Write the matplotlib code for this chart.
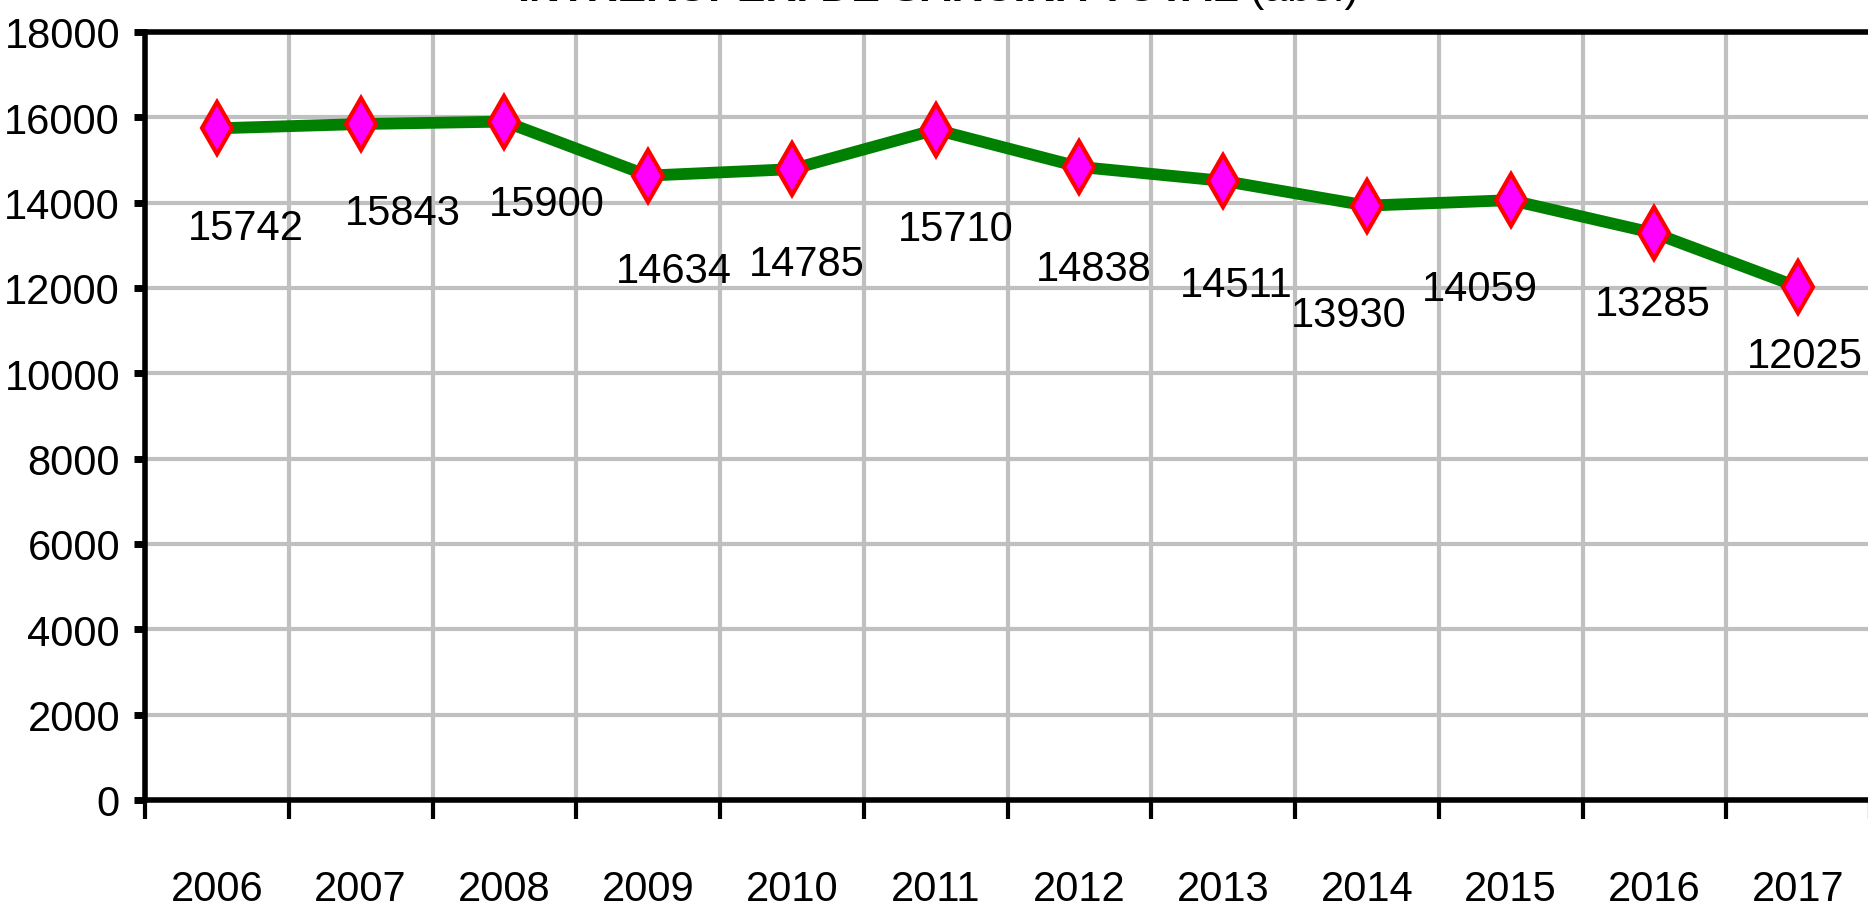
import matplotlib.pyplot as plt
from matplotlib.ticker import MultipleLocator, FixedLocator, NullFormatter, FixedFormatter
import numpy as np

years = ['2006', '2007', '2008', '2009', '2010', '2011',
         '2012', '2013', '2014', '2015', '2016', '2017']
values = [15742, 15843, 15900, 14634, 14785, 15710,
          14838, 14511, 13930, 14059, 13285, 12025]
# label offsets from the point, pixels
label_dx = [29, 42, 42, 26, 15, 20, 14, 13, -18, -31, -2, 7]
label_dy = [-100, -89, -82, -95, -95, -99, -102, -104, -109, -89, -71, -69]

plt.rcParams['font.family'] = ['Liberation Sans Narrow', 'Liberation Sans', 'DejaVu Sans']

fig = plt.figure(figsize=(18.68, 9.12), dpi=100)
ax = fig.add_axes([145 / 1868, 1 - 801 / 912, 1725 / 1868, 768 / 912])

x = np.arange(len(years))
ax.plot(x, values, color='#008000', lw=8.5, zorder=3,
        marker='d', ms=26, mfc='#FF00FF', mec='#FF0000', mew=3)

for i, v in enumerate(values):
    ax.annotate(str(v), (x[i], v), xytext=(label_dx[i], label_dy[i]),
                textcoords='offset pixels', ha='center', va='center',
                fontsize=30, zorder=4)

ax.set_xlim(-0.5, len(years) - 0.5)
ax.set_ylim(0, 18000)
ax.yaxis.set_major_locator(MultipleLocator(2000))

ax.xaxis.set_major_locator(FixedLocator(np.arange(len(years) + 1) - 0.5))
ax.xaxis.set_major_formatter(NullFormatter())
ax.xaxis.set_minor_locator(FixedLocator(x))
ax.xaxis.set_minor_formatter(FixedFormatter(years))

ax.grid(True, which='major', color='#C0C0C0', lw=3, zorder=0)
ax.set_axisbelow(True)

for s in ['left', 'bottom', 'top']:
    ax.spines[s].set_linewidth(4)
    ax.spines[s].set_color('black')
ax.spines['right'].set_visible(False)

ax.tick_params(axis='y', which='major', length=8, width=5, pad=10, labelsize=30)
ax.tick_params(axis='x', which='major', length=14, width=3)
ax.tick_params(axis='x', which='minor', length=0, pad=50, labelsize=30)

title_y = 1 - 1 / 912
t1 = fig.text(518 / 1868, title_y, 'ÎNTRERUPERI DE SARCINĂ TOTAL', fontsize=31,
              fontweight='bold', ha='left', va='baseline')
fig.canvas.draw()
bb = t1.get_window_extent()
fig.text((bb.x1 + 10) / 1868, title_y, '(abs.)', fontsize=31,
         ha='left', va='baseline')

fig.savefig('out.png', dpi=100)
